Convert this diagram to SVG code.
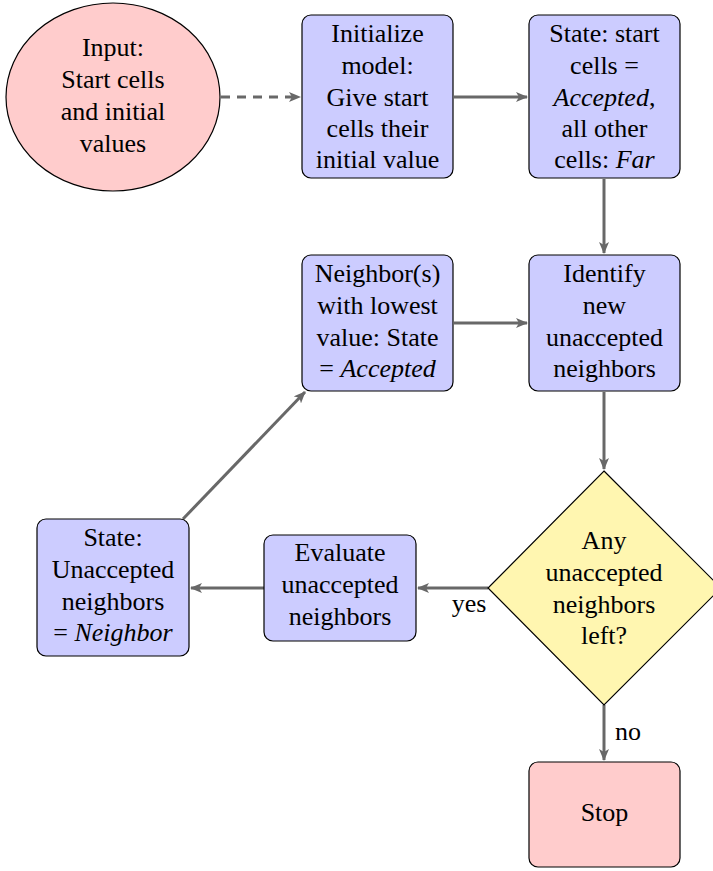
<svg xmlns="http://www.w3.org/2000/svg" width="713" height="871" viewBox="0 0 713 871">
<style>
text{font-family:"Liberation Serif","Times New Roman","DejaVu Serif",serif;font-size:26px;fill:#000;text-anchor:middle}
.it{font-style:italic}
.box{fill:#ccccff;stroke:#000;stroke-width:1.2}
.pink{fill:#ffcccc;stroke:#000;stroke-width:1.2}
.dia{fill:#fff6b0;stroke:#000;stroke-width:1.2}
.ln{stroke:#686868;stroke-width:3;fill:none}
.dash{stroke-dasharray:9,7}
</style>
<defs>
<marker id="ah" viewBox="0 0 12 10" refX="11" refY="5" markerWidth="12" markerHeight="10" markerUnits="userSpaceOnUse" orient="auto">
<path d="M0,0 L12,5 L0,10 L3,5 Z" fill="#686868"/>
</marker>
</defs>
<g id="connectors">
<line class="ln dash" x1="221" y1="97" x2="300" y2="97" marker-end="url(#ah)"/>
<line class="ln" x1="454" y1="97" x2="527" y2="97" marker-end="url(#ah)"/>
<line class="ln" x1="604" y1="179" x2="604" y2="253" marker-end="url(#ah)"/>
<line class="ln" x1="454" y1="323" x2="527" y2="323" marker-end="url(#ah)"/>
<line class="ln" x1="604" y1="392" x2="604" y2="469" marker-end="url(#ah)"/>
<line class="ln" x1="488" y1="588" x2="418" y2="588" marker-end="url(#ah)"/>
<line class="ln" x1="264" y1="588" x2="191" y2="588" marker-end="url(#ah)"/>
<line class="ln" x1="183" y1="519" x2="305" y2="392" marker-end="url(#ah)"/>
<line class="ln" x1="604" y1="705" x2="604" y2="760" marker-end="url(#ah)"/>
<text x="469" y="612">yes</text>
<text x="628" y="740">no</text>
</g>
<g id="input">
<ellipse class="pink" cx="113" cy="97" rx="107" ry="94"/>
<text x="113" y="56">Input:</text>
<text x="113" y="88">Start cells</text>
<text x="113" y="120">and initial</text>
<text x="113" y="152">values</text>
</g>
<g id="init">
<rect class="box" x="302" y="15" width="151" height="163" rx="9"/>
<text x="377.5" y="42">Initialize</text>
<text x="377.5" y="74">model:</text>
<text x="377.5" y="106">Give start</text>
<text x="377.5" y="137">cells their</text>
<text x="377.5" y="168">initial value</text>
</g>
<g id="state1">
<rect class="box" x="529" y="15" width="151" height="163" rx="9"/>
<text x="604.5" y="42">State:  start</text>
<text x="604.5" y="74">cells =</text>
<text x="604.5" y="106"><tspan class="it">Accepted</tspan>,</text>
<text x="604.5" y="137">all other</text>
<text x="604.5" y="168">cells: <tspan class="it">Far</tspan></text>
</g>
<g id="neighbor">
<rect class="box" x="302" y="255" width="151" height="136" rx="9"/>
<text x="377.5" y="282">Neighbor(s)</text>
<text x="377.5" y="314">with lowest</text>
<text x="377.5" y="346">value:  State</text>
<text x="377.5" y="377">= <tspan class="it">Accepted</tspan></text>
</g>
<g id="identify">
<rect class="box" x="529" y="255" width="151" height="136" rx="9"/>
<text x="604.5" y="282">Identify</text>
<text x="604.5" y="314">new</text>
<text x="604.5" y="346">unaccepted</text>
<text x="604.5" y="377">neighbors</text>
</g>
<g id="decision">
<polygon class="dia" points="604,471 721,588 604,705 488,588"/>
<text x="604" y="549">Any</text>
<text x="604" y="581">unaccepted</text>
<text x="604" y="613">neighbors</text>
<text x="604" y="644">left?</text>
</g>
<g id="evaluate">
<rect class="box" x="264" y="535" width="152" height="106" rx="9"/>
<text x="340" y="561">Evaluate</text>
<text x="340" y="593">unaccepted</text>
<text x="340" y="625">neighbors</text>
</g>
<g id="state2">
<rect class="box" x="37" y="519" width="152" height="137" rx="9"/>
<text x="113" y="546">State:</text>
<text x="113" y="578">Unaccepted</text>
<text x="113" y="610">neighbors</text>
<text x="113" y="641">= <tspan class="it">Neighbor</tspan></text>
</g>
<g id="stop">
<rect class="pink" x="529" y="762" width="151" height="105" rx="9"/>
<text x="604.5" y="821">Stop</text>
</g>
</svg>
